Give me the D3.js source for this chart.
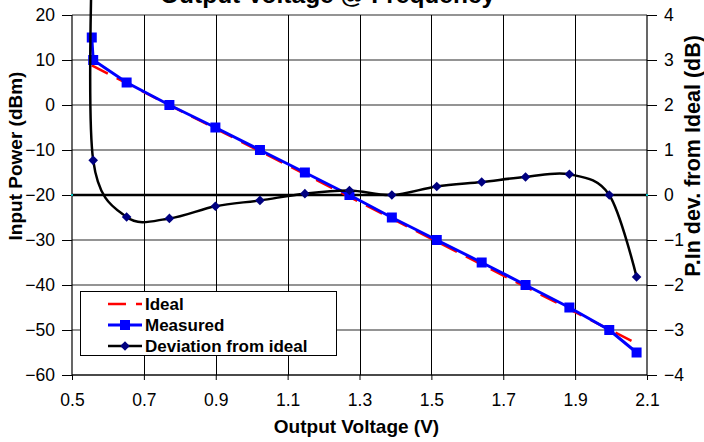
<!DOCTYPE html>
<html>
<head>
<meta charset="utf-8">
<script src="https://cdn.jsdelivr.net/npm/d3@7"></script>
<style>
  html, body { margin: 0; padding: 0; background: #fff; }
  svg { display: block; font-family: "Liberation Sans", Arial, sans-serif; }
</style>
</head>
<body>
<svg id="chart" width="704" height="442"></svg>
<script>
// ---- data ----
const measuredX = [0.555, 0.559, 0.652, 0.771, 0.899, 1.023, 1.148, 1.272, 1.390, 1.515, 1.640, 1.762, 1.884, 1.995, 2.071];
const measuredY = [15, 10, 5, 0, -5, -10, -15, -20, -25, -30, -35, -40, -45, -50, -55];
const idealX = [0.555, 2.071];
const idealY = [8.8, -53.0];
const deviationX = [0.555, 0.559, 0.652, 0.771, 0.899, 1.023, 1.148, 1.272, 1.390, 1.515, 1.640, 1.762, 1.884, 1.995, 2.071];
const deviationY = [5.0, 0.77, -0.49, -0.52, -0.25, -0.12, 0.03, 0.10, 0.0, 0.19, 0.29, 0.40, 0.46, 0.0, -1.82];
const zeroLineX = [0.5, 2.1];
const zeroLineY = [0, 0];
const xTicks = [0.5, 0.7, 0.9, 1.1, 1.3, 1.5, 1.7, 1.9, 2.1];
const xTickLabels = ["0.5", "0.7", "0.9", "1.1", "1.3", "1.5", "1.7", "1.9", "2.1"];
const yLeftTicks = [20, 10, 0, -10, -20, -30, -40, -50, -60];
const yRightTicks = [4, 3, 2, 1, 0, -1, -2, -3, -4];
const legendLabels = ["Ideal", "Measured", "Deviation from ideal"];
const titleText = "Output Voltage @ Frequency";
const xTitle = "Output Voltage (V)";
const yLeftTitle = "Input Power (dBm)";
const yRightTitle = "P.In dev. from Ideal (dB)";

// ---- layout ----
const L = 72, R = 647, T = 15, B = 375;
const svg = d3.select("#chart");
const x = d3.scaleLinear().domain([0.5, 2.1]).range([L, R]);
const yL = d3.scaleLinear().domain([-60, 20]).range([B, T]);
const yR = d3.scaleLinear().domain([-4, 4]).range([B, T]);

// title (clipped at top, as in the reference)
svg.append("text").attr("x", 160).attr("y", 3)
  .attr("font-size", 24.5).attr("font-weight", "bold").attr("fill", "#000")
  .text(titleText);

// horizontal gridlines
svg.append("g").selectAll("line").data(yLeftTicks).join("line")
  .attr("x1", L).attr("x2", R)
  .attr("y1", d => yL(d)).attr("y2", d => yL(d))
  .attr("stroke", "#707070").attr("stroke-width", 1.5);

// vertical gridlines
svg.append("g").selectAll("line").data(xTicks.slice(1, -1)).join("line")
  .attr("x1", d => Math.round(x(d)) + 0.5).attr("x2", d => Math.round(x(d)) + 0.5)
  .attr("y1", T).attr("y2", B)
  .attr("stroke", "#000").attr("stroke-width", 1);

// axes
const axL = d3.axisLeft(yL).tickValues(yLeftTicks).tickSize(10).tickPadding(7).tickFormat(d3.format("d"));
const gL = svg.append("g").attr("transform", `translate(${L},0)`).call(axL);
const axR = d3.axisRight(yR).tickValues(yRightTicks).tickSize(10).tickPadding(7).tickFormat(d3.format("d"));
const gR = svg.append("g").attr("transform", `translate(${R},0)`).call(axR);
const axB = d3.axisBottom(x).tickValues(xTicks).tickSize(5).tickPadding(14).tickFormat((d, i) => xTickLabels[i]);
const gB = svg.append("g").attr("transform", `translate(0,${B})`).call(axB);
[gL, gR, gB].forEach(g => {
  g.selectAll("path.domain").attr("stroke", "#000").attr("stroke-width", 1.2);
  g.selectAll(".tick line").attr("stroke", "#000");
  g.selectAll("text").attr("font-size", 17.5).attr("fill", "#000")
    .attr("font-family", "'Liberation Sans', Arial, sans-serif");
});
gL.selectAll(".domain").attr("d", `M0,${T}V${B}`);
gR.selectAll(".domain").attr("d", `M0,${T}V${B}`);
gB.selectAll(".domain").attr("d", `M${L},0H${R}`);

// axis titles
svg.append("text").attr("x", (L + R) / 2 - 3).attr("y", 433)
  .attr("text-anchor", "middle").attr("font-size", 19).attr("font-weight", "bold")
  .text(xTitle);
svg.append("text").attr("transform", "translate(22,156) rotate(-90)")
  .attr("text-anchor", "middle").attr("font-size", 19).attr("font-weight", "bold")
  .text(yLeftTitle);
svg.append("text").attr("transform", "translate(700,156) rotate(-90)")
  .attr("text-anchor", "middle").attr("font-size", 21.5).attr("font-weight", "bold")
  .text(yRightTitle);

// zero line (deviation = 0)
const zl = zeroLineX.map((v, i) => [v, zeroLineY[i]]);
svg.append("path").datum(zl)
  .attr("d", d3.line().x(d => x(d[0])).y(d => yR(d[1])))
  .attr("stroke", "#000").attr("stroke-width", 2.5).attr("fill", "none");
svg.append("g").selectAll("rect").data(zl).join("rect")
  .attr("x", d => x(d[0]) - 1).attr("y", d => yR(d[1]) - 1)
  .attr("width", 2).attr("height", 2).attr("fill", "#00c0c0");

// ideal line
const idealData = idealX.map((v, i) => [v, idealY[i]]);
svg.append("path").datum(idealData)
  .attr("d", d3.line().x(d => x(d[0])).y(d => yL(d[1])))
  .attr("stroke", "#ff0000").attr("stroke-width", 2.5).attr("fill", "none")
  .attr("stroke-dasharray", "18,10");

// measured
const measData = measuredX.map((v, i) => [v, measuredY[i]]);
svg.append("path").datum(measData)
  .attr("d", d3.line().x(d => x(d[0])).y(d => yL(d[1])))
  .attr("stroke", "#0000ff").attr("stroke-width", 3).attr("fill", "none");
svg.append("g").selectAll("rect").data(measData).join("rect")
  .attr("x", d => x(d[0]) - 5).attr("y", d => yL(d[1]) - 5)
  .attr("width", 10).attr("height", 10).attr("fill", "#0000ff");

// deviation (smoothed)
const devData = deviationX.map((v, i) => [v, deviationY[i]]);
svg.append("path").datum(devData)
  .attr("d", d3.line().x(d => x(d[0])).y(d => yR(d[1])).curve(d3.curveCardinal.tension(0)))
  .attr("stroke", "#000").attr("stroke-width", 2.5).attr("fill", "none");
const diamond = (cx, cy, r) => `M${cx},${cy - r}L${cx + r},${cy}L${cx},${cy + r}L${cx - r},${cy}Z`;
svg.append("g").selectAll("path").data(devData.slice(1)).join("path")
  .attr("d", d => diamond(x(d[0]), yR(d[1]), 4.8))
  .attr("fill", "#000080");

// legend
const lg = svg.append("g");
lg.append("rect").attr("x", 80.5).attr("y", 291.5).attr("width", 256).attr("height", 64)
  .attr("fill", "#fff").attr("stroke", "#000").attr("stroke-width", 1);
const rows = [304, 325, 346];
legendLabels.forEach((lab, i) => {
  const yy = rows[i];
  const ln = lg.append("line").attr("x1", 108).attr("x2", 142).attr("y1", yy).attr("y2", yy);
  if (i === 0) ln.attr("stroke", "#ff0000").attr("stroke-width", 2.5).attr("stroke-dasharray", "18,10");
  if (i === 1) {
    ln.attr("stroke", "#0000ff").attr("stroke-width", 3);
    lg.append("rect").attr("x", 120).attr("y", yy - 5).attr("width", 10).attr("height", 10).attr("fill", "#0000ff");
  }
  if (i === 2) {
    ln.attr("stroke", "#000").attr("stroke-width", 2.5);
    lg.append("path").attr("d", diamond(125, yy, 4.8)).attr("fill", "#000080");
  }
  lg.append("text").attr("x", 145).attr("y", yy + 6)
    .attr("font-size", 17).attr("font-weight", "bold").text(lab);
});
</script>
</body>
</html>
